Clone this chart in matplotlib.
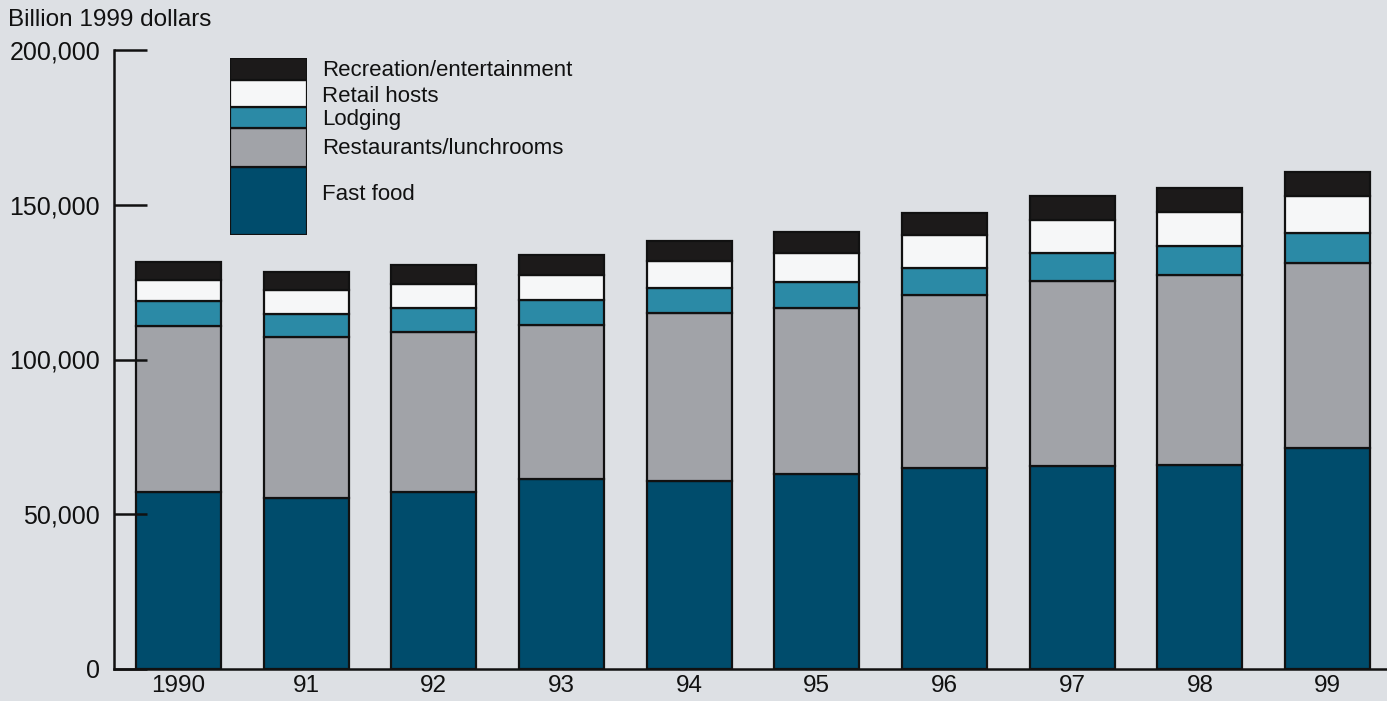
import numpy as np
import matplotlib
matplotlib.use("Agg")
import matplotlib.pyplot as plt
from matplotlib.ticker import FuncFormatter

plt.rcParams['font.family'] = ['Liberation Sans', 'DejaVu Sans']

# data (billion 1999 dollars)
years = ['1990', '91', '92', '93', '94', '95', '96', '97', '98', '99']
fast_food = [57200, 55400, 57300, 61300, 60700, 63100, 64800, 65600, 65800, 71300]
restaurants = [53500, 51800, 51500, 49800, 54400, 53400, 56200, 59900, 61600, 59900]
lodging = [8100, 7600, 7900, 8000, 8000, 8400, 8600, 8900, 9400, 9700]
retail = [7000, 7500, 7700, 8300, 8800, 9500, 10700, 10800, 10800, 11800]
recreation = [5700, 5900, 6100, 6500, 6500, 6800, 7000, 7500, 7800, 7800]

series = [fast_food, restaurants, lodging, retail, recreation]
names = ['Fast food', 'Restaurants/lunchrooms', 'Lodging', 'Retail hosts',
         'Recreation/entertainment']
colors = ['#004c6c', '#a1a3a8', '#2b8aa6', '#f6f7f8', '#1c1a1a']

# legend swatch heights (just for the stacked key box)
key_sizes = [68, 39, 21, 27, 22]
key_label_y = [195, 148, 119, 96, 70]

bg = '#dde0e4'

fig = plt.figure(figsize=(13.87, 7.01), dpi=100, facecolor=bg)
ax = fig.add_axes([114 / 1387, 32 / 701, 1 - 114 / 1387, 619 / 701])
ax.set_facecolor(bg)

x = np.arange(len(years))
bottom = np.zeros(len(years))
for vals, col in zip(series, colors):
    ax.bar(x, vals, width=0.666, bottom=bottom, color=col,
           edgecolor='#111111', linewidth=1.6)
    bottom += np.array(vals)

ax.set_xlim(-0.505, 9.466)
ax.set_ylim(0, 200000)
ax.set_yticks([0, 50000, 100000, 150000, 200000])
ax.yaxis.set_major_formatter(FuncFormatter(lambda v, p: f'{int(v):,}'))
ax.set_xticks(x)
ax.set_xticklabels(years)

for s in ['top', 'right']:
    ax.spines[s].set_visible(False)
for s in ['left', 'bottom']:
    ax.spines[s].set_linewidth(1.8)
    ax.spines[s].set_color('#111111')

ax.tick_params(axis='y', direction='in', length=24, width=1.8, pad=10,
               labelsize=18, colors='#111111')
ax.tick_params(axis='x', length=0, pad=4, labelsize=17.5, colors='#111111')

fig.text(8 / 1387, 1 - 9 / 701, 'Billion 1999 dollars', fontsize=17.5,
         va='top', ha='left', color='#111111')

# stacked key box
lax = fig.add_axes([230 / 1387, 1 - 235 / 701, 77 / 1387, 177 / 701])
lax.set_facecolor('none')
kb = 0
for h, col in zip(key_sizes, colors):
    lax.bar(0, h, width=1, bottom=kb, color=col, edgecolor='#111111',
            linewidth=1.6)
    kb += h
lax.set_xlim(-0.5, 0.5)
lax.set_ylim(0, kb)
lax.axis('off')

for name, ly in zip(names, key_label_y):
    fig.text(322 / 1387, 1 - ly / 701, name, fontsize=16, va='center',
             ha='left', color='#111111')

fig.savefig('out.png', dpi=100, facecolor=bg)
